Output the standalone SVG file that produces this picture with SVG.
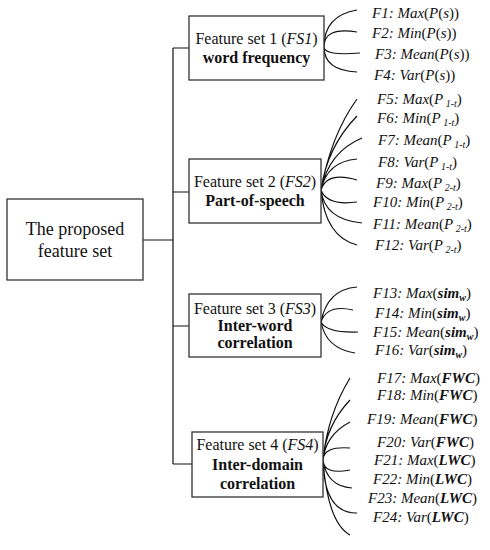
<svg xmlns="http://www.w3.org/2000/svg" width="490" height="550" viewBox="0 0 490 550">
<style>
.box{fill:#fff;stroke:#333;stroke-width:1.3}
.ln{fill:none;stroke:#111;stroke-width:1.2}
.t{font-family:"Liberation Serif","Times New Roman",serif;fill:#111;text-anchor:middle}
.bt{font-size:16px}
.b{font-weight:bold}
.i{font-style:italic}
.lb{font-family:"Liberation Serif","Times New Roman",serif;font-size:15px;font-style:italic;fill:#111}
.n{font-style:normal}
.s{font-size:10px}
.bi{font-weight:bold;font-style:italic}
</style>
<rect width="490" height="550" fill="#fff"/>
<g id="connectors">
<path class="ln" d="M143 240H173M173 48V464M173 48H189M173 192H189M173 326H189M173 464H192"/>
<path class="ln" d="M324 47Q324 15.5 357 10M324 47Q324 26.5 357 32M324 47Q324.5 56 360 53M324 47Q324 70.5 357 72"/>
<path class="ln" d="M321 190Q331 135 357 99M321 190Q327 147 357 116M321 190Q328.5 152 362 138M321 190Q327 161.5 357 159M321 190Q327 171 357 180M321 190Q327 206 357 202M321 190Q324.5 219.5 362 223M321 190Q325 236.5 357 245"/>
<path class="ln" d="M321 322Q327 289.5 357 287M321 322Q327 304 353 310M321 322Q326.5 333 358 332M321 322Q326 348.5 355 353"/>
<path class="ln" d="M323 460Q327.5 415 350 378M323 460Q325.5 426 350 400M323 460Q325.5 435 350 422M323 460Q323.5 446 350 448M323 460Q323.5 475 350 470M323 460Q326.5 486 352 488M323 460Q324 513.5 357 513M323 460Q327.5 522.5 350 535"/>
</g>
<g id="root">
<rect class="box" x="7" y="199" width="136" height="81"/>
<text class="t" font-size="18" x="75" y="235">The proposed</text>
<text class="t" font-size="18" x="75" y="257">feature set</text>
</g>
<g id="fs1">
<rect class="box" x="189" y="16" width="135" height="64"/>
<text class="t bt" x="256.5" y="44">Feature set 1 (<tspan class="i">FS1</tspan>)</text>
<text class="t bt b" x="256.5" y="63">word frequency</text>
</g>
<g id="fs2">
<rect class="box" x="189" y="159" width="132" height="64"/>
<text class="t bt" x="255" y="187">Feature set 2 (<tspan class="i">FS2</tspan>)</text>
<text class="t bt b" x="255" y="206">Part-of-speech</text>
</g>
<g id="fs3">
<rect class="box" x="189" y="294" width="132" height="63"/>
<text class="t bt" x="255" y="314">Feature set 3 (<tspan class="i">FS3</tspan>)</text>
<text class="t bt b" x="255" y="331">Inter-word</text>
<text class="t bt b" x="255" y="348">correlation</text>
</g>
<g id="fs4">
<rect class="box" x="192" y="432" width="131" height="65"/>
<text class="t bt" x="257.5" y="450">Feature set 4 (<tspan class="i">FS4</tspan>)</text>
<text class="t bt b" x="257.5" y="470">Inter-domain</text>
<text class="t bt b" x="257.5" y="489">correlation</text>
</g>
<g id="f1"><text class="lb" x="372" y="18">F1: Max<tspan class="n">(</tspan>P<tspan class="n">(</tspan>s<tspan class="n">))</tspan></text></g>
<g id="f2"><text class="lb" x="372" y="38">F2: Min<tspan class="n">(</tspan>P<tspan class="n">(</tspan>s<tspan class="n">))</tspan></text></g>
<g id="f3"><text class="lb" x="375" y="59">F3: Mean<tspan class="n">(</tspan>P<tspan class="n">(</tspan>s<tspan class="n">))</tspan></text></g>
<g id="f4"><text class="lb" x="374" y="80">F4: Var<tspan class="n">(</tspan>P<tspan class="n">(</tspan>s<tspan class="n">))</tspan></text></g>
<g id="f5"><text class="lb" x="377" y="104">F5: Max<tspan class="n">(</tspan>P<tspan class="s" dy="3"> 1-t</tspan><tspan class="n" dy="-3">)</tspan></text></g>
<g id="f6"><text class="lb" x="377" y="123">F6: Min<tspan class="n">(</tspan>P<tspan class="s" dy="3"> 1-t</tspan><tspan class="n" dy="-3">)</tspan></text></g>
<g id="f7"><text class="lb" x="378" y="145">F7: Mean<tspan class="n">(</tspan>P<tspan class="s" dy="3"> 1-t</tspan><tspan class="n" dy="-3">)</tspan></text></g>
<g id="f8"><text class="lb" x="378" y="167">F8: Var<tspan class="n">(</tspan>P<tspan class="s" dy="3"> 1-t</tspan><tspan class="n" dy="-3">)</tspan></text></g>
<g id="f9"><text class="lb" x="376" y="188">F9: Max<tspan class="n">(</tspan>P<tspan class="s" dy="3"> 2-t</tspan><tspan class="n" dy="-3">)</tspan></text></g>
<g id="f10"><text class="lb" x="373" y="207">F10: Min<tspan class="n">(</tspan>P<tspan class="s" dy="3"> 2-t</tspan><tspan class="n" dy="-3">)</tspan></text></g>
<g id="f11"><text class="lb" x="373" y="229">F11: Mean<tspan class="n">(</tspan>P<tspan class="s" dy="3"> 2-t</tspan><tspan class="n" dy="-3">)</tspan></text></g>
<g id="f12"><text class="lb" x="375" y="250">F12: Var<tspan class="n">(</tspan>P<tspan class="s" dy="3"> 2-t</tspan><tspan class="n" dy="-3">)</tspan></text></g>
<g id="f13"><text class="lb" x="373" y="298">F13: Max<tspan class="n">(</tspan><tspan class="bi">sim</tspan><tspan class="s bi" dy="3">w</tspan><tspan class="n" dy="-3">)</tspan></text></g>
<g id="f14"><text class="lb" x="375" y="318">F14: Min<tspan class="n">(</tspan><tspan class="bi">sim</tspan><tspan class="s bi" dy="3">w</tspan><tspan class="n" dy="-3">)</tspan></text></g>
<g id="f15"><text class="lb" x="373" y="337">F15: Mean<tspan class="n">(</tspan><tspan class="bi">sim</tspan><tspan class="s bi" dy="3">w</tspan><tspan class="n" dy="-3">)</tspan></text></g>
<g id="f16"><text class="lb" x="375" y="355">F16: Var<tspan class="n">(</tspan><tspan class="bi">sim</tspan><tspan class="s bi" dy="3">w</tspan><tspan class="n" dy="-3">)</tspan></text></g>
<g id="f17"><text class="lb" x="377" y="383">F17: Max<tspan class="n">(</tspan><tspan class="bi">FWC</tspan><tspan class="n">)</tspan></text></g>
<g id="f18"><text class="lb" x="377" y="400">F18: Min<tspan class="n">(</tspan><tspan class="bi">FWC</tspan><tspan class="n">)</tspan></text></g>
<g id="f19"><text class="lb" x="367" y="424">F19: Mean<tspan class="n">(</tspan><tspan class="bi">FWC</tspan><tspan class="n">)</tspan></text></g>
<g id="f20"><text class="lb" x="377" y="447">F20: Var<tspan class="n">(</tspan><tspan class="bi">FWC</tspan><tspan class="n">)</tspan></text></g>
<g id="f21"><text class="lb" x="374" y="465">F21: Max<tspan class="n">(</tspan><tspan class="bi">LWC</tspan><tspan class="n">)</tspan></text></g>
<g id="f22"><text class="lb" x="373" y="484">F22: Min<tspan class="n">(</tspan><tspan class="bi">LWC</tspan><tspan class="n">)</tspan></text></g>
<g id="f23"><text class="lb" x="368" y="503">F23: Mean<tspan class="n">(</tspan><tspan class="bi">LWC</tspan><tspan class="n">)</tspan></text></g>
<g id="f24"><text class="lb" x="373" y="522">F24: Var<tspan class="n">(</tspan><tspan class="bi">LWC</tspan><tspan class="n">)</tspan></text></g>
</svg>
